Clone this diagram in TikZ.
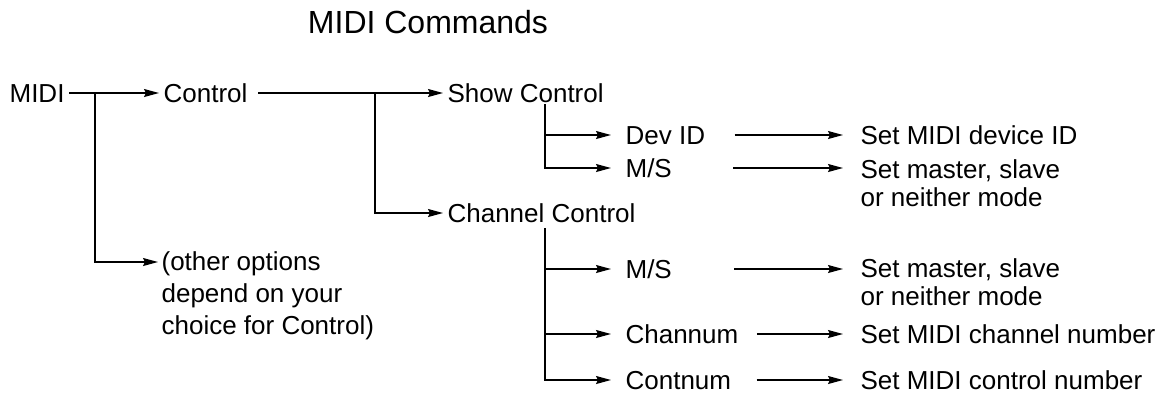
\documentclass[tikz,border=0pt]{standalone}
\usepackage{fontspec}
\setmainfont{Liberation Sans}
\usetikzlibrary{arrows.meta}

\begin{document}
\begin{tikzpicture}[x=0.5pt,y=-0.5pt,line width=0.6pt,
  >={Stealth[length=7.5pt,width=4pt,inset=1pt]},
  font=\fontsize{13}{14}\selectfont,
  item/.style={anchor=west,inner xsep=2pt,inner ysep=0pt,text height=9.3pt,text depth=0pt},
  sub/.style={item,inner xsep=7pt},
  result/.style={item,inner xsep=8.5pt},
  note/.style={anchor=north west,align=left,inner ysep=0pt}]
  \useasboundingbox (0,0) rectangle (1164,393);
  \node[anchor=base,font=\fontsize{16}{19}\selectfont] (title) at (428,33) {MIDI Commands};
  % first level
  \node[item] (midi) at (5,93) {MIDI};
  \node[item] (control) at (159,93) {Control};
  \node[note,inner xsep=1.5pt,font=\fontsize{13}{16}\selectfont] (other) at (158,251)
    {(other options\\depend on your\\choice for Control)};
  \coordinate (jm) at (95,93);
  \coordinate (jo) at (95,262);
  \draw[->] (midi) -- (control);
  \draw[->] (jm) -- (jo) -- (jo -| other.west);
  % second level
  \node[item] (show) at (443,93) {Show Control};
  \node[item] (chan) at (443,213) {Channel Control};
  \coordinate (jc) at (375,93);
  \draw[->,shorten <=3pt] (control) -- (show);
  \draw[->] (jc) |- (chan);
  % show control
  \coordinate (js) at (545,104);
  \node[sub] (dev) at (611,135) {Dev ID};
  \node[sub] (ms1) at (611,168) {M/S};
  \draw[->] (js) |- (dev);
  \draw[->] (js) |- (ms1);
  \node[result] (setdev) at (843,135) {Set MIDI device ID};
  \node[note,inner xsep=8.5pt] (setms1) at (843,158.7) {Set master, slave\\or neither mode};
  \draw[->,shorten <=7.5pt] (dev) -- (setdev);
  \draw[->,shorten <=23.5pt] (ms1) -- (ms1 -| setms1.west);
  % channel control
  \coordinate (jch) at (545,228);
  \node[sub] (ms2) at (611,269) {M/S};
  \node[sub] (channum) at (611,334) {Channum};
  \node[sub] (contnum) at (611,380) {Contnum};
  \draw[->] (jch) |- (ms2);
  \draw[->] (jch) |- (channum);
  \draw[->] (jch) |- (contnum);
  \node[note,inner xsep=8.5pt] (setms2) at (843,257.7) {Set master, slave\\or neither mode};
  \node[result] (setchan) at (843,334) {Set MIDI channel number};
  \node[result] (setcont) at (843,380) {Set MIDI control number};
  \draw[->,shorten <=24pt] (ms2) -- (ms2 -| setms2.west);
  \draw[->,shorten <=2pt] (channum) -- (setchan);
  \draw[->,shorten <=5.5pt] (contnum) -- (setcont);
\end{tikzpicture}
\end{document}
